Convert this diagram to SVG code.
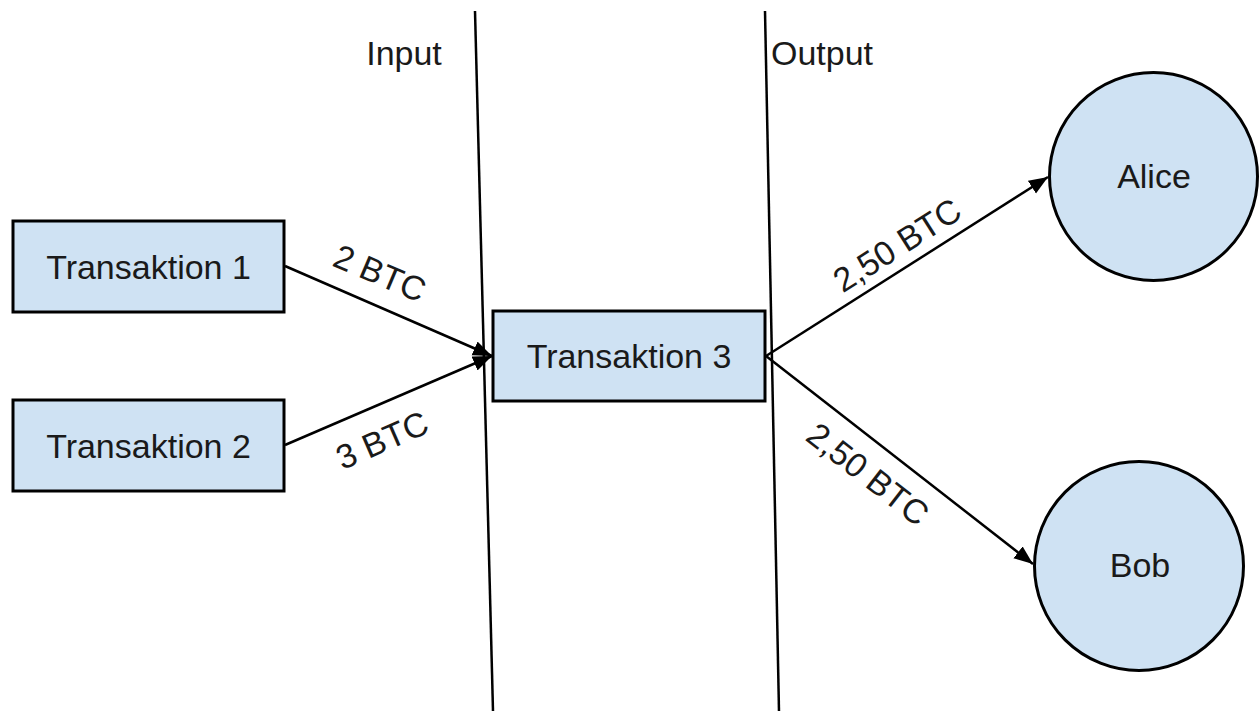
<svg xmlns="http://www.w3.org/2000/svg" width="1259" height="711" viewBox="0 0 1259 711">
  <style>
    .box { fill: #cfe2f3; stroke: #000; stroke-width: 3; }
    .lbl { font-family: "Liberation Sans", Arial, sans-serif; font-size: 34px; fill: #1a1a1a; text-anchor: middle; }
    .edge { stroke: #000; stroke-width: 2.5; fill: none; marker-end: url(#arrow); }
    .divider { stroke: #000; stroke-width: 2.5; fill: none; }
  </style>
  <defs>
    <marker id="arrow" markerUnits="userSpaceOnUse" markerWidth="20" markerHeight="16" refX="19" refY="7.5" orient="auto">
      <path d="M0,0 L19,7.5 L0,15 z" fill="#000"/>
    </marker>
  </defs>
  <rect width="1259" height="711" fill="#fff"/>

  <g id="dividers">
    <line class="divider" x1="475" y1="11" x2="493" y2="711"/>
    <line class="divider" x1="765" y1="11" x2="779" y2="711"/>
    <text class="lbl" x="404" y="65">Input</text>
    <text class="lbl" x="822" y="65">Output</text>
  </g>

  <g id="connectors">
    <line class="edge" x1="285" y1="266" x2="492" y2="356"/>
    <line class="edge" x1="285" y1="445" x2="492" y2="356"/>
    <line class="edge" x1="766" y1="356" x2="1048" y2="177"/>
    <line class="edge" x1="766" y1="356" x2="1033" y2="564"/>
    <text class="lbl" transform="translate(380,273) rotate(23)" y="12">2 BTC</text>
    <text class="lbl" transform="translate(382,440) rotate(-23.5)" y="12">3 BTC</text>
    <text class="lbl" transform="translate(897,245) rotate(-32.4)" y="12">2,50 BTC</text>
    <text class="lbl" transform="translate(868,474) rotate(37.9)" y="12">2,50 BTC</text>
  </g>

  <g id="t1">
    <rect class="box" x="13" y="221" width="271" height="91"/>
    <text class="lbl" x="148.5" y="279">Transaktion 1</text>
  </g>
  <g id="t2">
    <rect class="box" x="13" y="400" width="271" height="91"/>
    <text class="lbl" x="148.5" y="458">Transaktion 2</text>
  </g>
  <g id="t3">
    <rect class="box" x="493" y="311" width="272" height="90"/>
    <text class="lbl" x="629" y="368">Transaktion 3</text>
  </g>
  <g id="alice">
    <circle class="box" cx="1153.5" cy="176.5" r="104" stroke-width="2.5"/>
    <text class="lbl" x="1154" y="188">Alice</text>
  </g>
  <g id="bob">
    <circle class="box" cx="1139" cy="566" r="104.5" stroke-width="2.5"/>
    <text class="lbl" x="1140" y="577">Bob</text>
  </g>
</svg>
